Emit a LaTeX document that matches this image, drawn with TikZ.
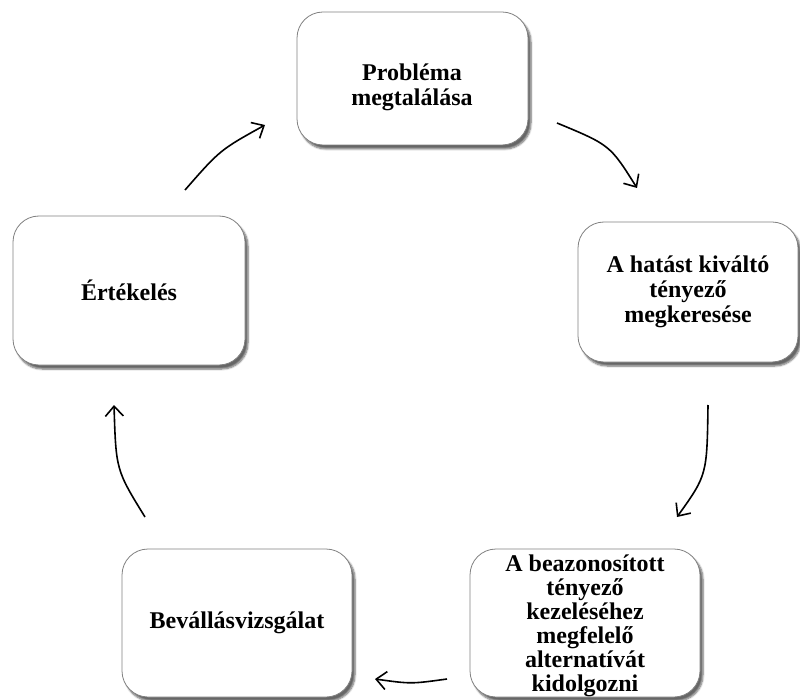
\documentclass[tikz,border=0pt]{standalone}
\usepackage{fontspec}
\setmainfont{Liberation Serif}
\usetikzlibrary{arrows.meta,shadows.blur}
\begin{document}
\begin{tikzpicture}[x=1pt,y=-1pt,
  boxfont/.style={font=\fontsize{24}{25}\selectfont\bfseries},
  stepbox/.style={draw=black!50, line width=0.8pt, fill=white, rounded corners=26pt,
    blur shadow={shadow xshift=3pt, shadow yshift=-4pt, shadow blur steps=6, shadow opacity=60},
    align=center, inner sep=0pt, boxfont},
  flow/.style={line width=1.6pt, -{Straight Barb[length=10pt,width=18pt,line width=1.6pt]}}]
\useasboundingbox (0,0) rectangle (800,700);
\node[stepbox, minimum width=231pt, minimum height=133pt] (b1) at (412.5,78.5) {};
\node[boxfont, align=center] (t1) at (412,87) {Probléma\\megtalálása};
\node[stepbox, minimum width=220pt, minimum height=140pt] (b2) at (688,292) {A hatást kiváltó\\tényező\\megkeresése};
\node[stepbox, minimum width=230pt, minimum height=148pt] (b3) at (585,623) {};
\node[font=\fontsize{24}{24}\selectfont\bfseries, align=center] (t3) at (585,626) {A beazonosított\\tényező\\kezeléséhez\\megfelelő\\alternatívát\\kidolgozni};
\node[stepbox, minimum width=230pt, minimum height=148pt] (b4) at (237,623) {Bevállásvizsgálat};
\node[stepbox, minimum width=232pt, minimum height=149pt] (b5) at (129,290.5) {Értékelés};
\coordinate (a1s) at (185,190); \coordinate (a1e) at (265,125);
\coordinate (a2s) at (557,123); \coordinate (a2e) at (637,188);
\coordinate (a3s) at (708,405); \coordinate (a3e) at (677,517);
\coordinate (a4s) at (447,679); \coordinate (a4e) at (375,679);
\coordinate (a5s) at (145,517); \coordinate (a5e) at (114,405);
\draw[flow] (a1s) .. controls (220,150) .. (a1e);
\draw[flow] (a2s) .. controls (610,145) .. (a2e);
\draw[flow] (a3s) .. controls (707,475) .. (a3e);
\draw[flow] (a4s) .. controls (411,684) .. (a4e);
\draw[flow] (a5s) .. controls (116,470) .. (a5e);
\end{tikzpicture}
\end{document}
